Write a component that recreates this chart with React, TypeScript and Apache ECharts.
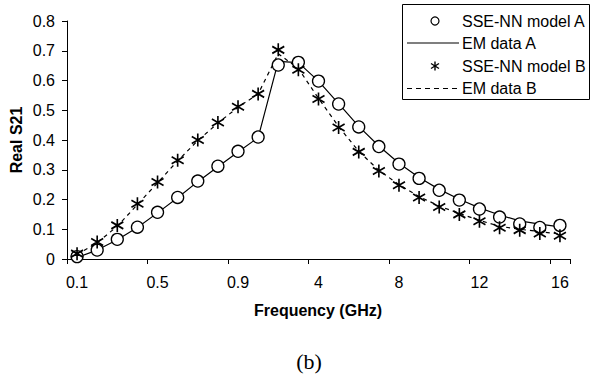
import React, { useEffect, useRef } from "react";
import * as echarts from "echarts";

const categories = [
  "0.1", "0.2", "0.3", "0.4", "0.5", "0.6", "0.7", "0.8", "0.9",
  "1", "2", "3", "4", "5", "6", "7", "8", "9", "10", "11", "12", "13", "14", "15", "16",
];

const modelA = [
  0.008, 0.03, 0.066, 0.107, 0.157, 0.207, 0.262, 0.312, 0.362,
  0.41, 0.652, 0.661, 0.598, 0.521, 0.444, 0.378, 0.319, 0.271, 0.231, 0.198, 0.168, 0.141, 0.118, 0.106, 0.113,
];
const emA = [
  0.005, 0.03, 0.065, 0.106, 0.155, 0.206, 0.26, 0.31, 0.36,
  0.408, 0.664, 0.66, 0.598, 0.522, 0.446, 0.38, 0.322, 0.274, 0.234, 0.201, 0.172, 0.148, 0.128, 0.117, 0.108,
];
const modelB = [
  0.018, 0.057, 0.113, 0.186, 0.259, 0.332, 0.4, 0.459, 0.512,
  0.555, 0.703, 0.636, 0.538, 0.442, 0.36, 0.296, 0.248, 0.207, 0.175, 0.15, 0.127, 0.105, 0.097, 0.086, 0.078,
];
const emB = [
  0.015, 0.055, 0.11, 0.183, 0.256, 0.33, 0.398, 0.457, 0.51,
  0.555, 0.69, 0.64, 0.54, 0.445, 0.362, 0.298, 0.25, 0.21, 0.178, 0.153, 0.13, 0.11, 0.1, 0.092, 0.084,
];

const legendNames = ["SSE-NN model A", "EM data A", "SSE-NN model B", "EM data B"];

const FONT = "'Liberation Sans', Arial, sans-serif";
const STAR = "path://M6,0L6,13M0,3L12,10M0,10L12,3";

export default function App() {
  const ref = useRef<HTMLDivElement>(null);
  useEffect(() => {
    if (!ref.current) return;
    const chart = echarts.init(ref.current, undefined, { renderer: "svg" });
    const rowsY = [21, 43, 66, 88.5];
    const lx = 435;
    const option: any = {
      animation: false,
      backgroundColor: "#fff",
      grid: { left: 67, right: 20, top: 21, bottom: 121, containLabel: false, outerBoundsMode: "none" },
      xAxis: {
        type: "category",
        data: categories,
        boundaryGap: true,
        axisLine: { show: true, lineStyle: { color: "#000", width: 1 } },
        axisTick: { show: true, interval: 3, length: 5, inside: false, lineStyle: { color: "#000" } },
        axisLabel: { interval: 3, margin: 15, color: "#000", fontSize: 16, fontFamily: FONT },
        splitLine: { show: false },
      },
      yAxis: {
        type: "value",
        min: 0,
        max: 0.8,
        interval: 0.1,
        axisLine: { show: true, lineStyle: { color: "#000", width: 1 } },
        axisTick: { show: true, length: 5, inside: false, lineStyle: { color: "#000" } },
        axisLabel: { margin: 12, color: "#000", fontSize: 16, fontFamily: FONT },
        splitLine: { show: false },
      },
      series: [
        {
          name: legendNames[1],
          type: "line",
          data: emA,
          showSymbol: false,
          symbol: "none",
          lineStyle: { color: "#000", width: 1.2, type: "solid" },
          z: 2,
        },
        {
          name: legendNames[3],
          type: "line",
          data: emB,
          showSymbol: false,
          symbol: "none",
          lineStyle: { color: "#000", width: 1.2, type: [4, 4] },
          z: 2,
        },
        {
          name: legendNames[0],
          type: "scatter",
          data: modelA,
          symbol: "circle",
          symbolSize: 12,
          itemStyle: { color: "#fff", borderColor: "#000", borderWidth: 1.3, opacity: 1 },
          z: 3,
        },
        {
          name: legendNames[2],
          type: "scatter",
          data: modelB,
          symbol: STAR,
          symbolSize: [12, 13],
          symbolKeepAspect: false,
          itemStyle: { color: "none", borderColor: "#000", borderWidth: 1.7, opacity: 1 },
          z: 4,
        },
      ],
      graphic: [
        {
          type: "text",
          x: 16,
          y: 140,
          rotation: Math.PI / 2,
          style: {
            text: "Real S21",
            fill: "#000",
            font: `bold 16px ${FONT}`,
            textAlign: "center",
            textVerticalAlign: "middle",
          },
        },
        {
          type: "text",
          x: 318,
          y: 310,
          style: {
            text: "Frequency (GHz)",
            fill: "#000",
            font: `bold 16px ${FONT}`,
            textAlign: "center",
            textVerticalAlign: "middle",
          },
        },
        {
          type: "text",
          x: 309,
          y: 361,
          style: {
            text: "(b)",
            fill: "#000",
            font: `22px 'Liberation Serif', 'Times New Roman', serif`,
            textAlign: "center",
            textVerticalAlign: "middle",
          },
        },
        {
          type: "group",
          children: [
            {
              type: "rect",
              shape: { x: 402.5, y: 4.5, width: 187, height: 95 },
              style: { fill: "#fff", stroke: "#000", lineWidth: 1 },
            },
            {
              type: "circle",
              shape: { cx: lx, cy: rowsY[0], r: 4 },
              style: { fill: "#fff", stroke: "#000", lineWidth: 1.2 },
            },
            {
              type: "line",
              shape: { x1: 407, y1: rowsY[1], x2: 459, y2: rowsY[1] },
              style: { stroke: "#000", lineWidth: 1.2 },
            },
            {
              type: "line",
              shape: { x1: lx, y1: rowsY[2] - 4.5, x2: lx, y2: rowsY[2] + 4.5 },
              style: { stroke: "#000", lineWidth: 1.4 },
            },
            {
              type: "line",
              shape: { x1: lx - 4, y1: rowsY[2] - 2.5, x2: lx + 4, y2: rowsY[2] + 2.5 },
              style: { stroke: "#000", lineWidth: 1.4 },
            },
            {
              type: "line",
              shape: { x1: lx - 4, y1: rowsY[2] + 2.5, x2: lx + 4, y2: rowsY[2] - 2.5 },
              style: { stroke: "#000", lineWidth: 1.4 },
            },
            {
              type: "line",
              shape: { x1: 407, y1: rowsY[3], x2: 459, y2: rowsY[3] },
              style: { stroke: "#000", lineWidth: 1.2, lineDash: [5, 4] },
            },
            ...legendNames.map((t, i) => ({
              type: "text",
              x: 462,
              y: rowsY[i],
              style: {
                text: t,
                fill: "#000",
                font: `16px ${FONT}`,
                textAlign: "left",
                textVerticalAlign: "middle",
              },
            })),
          ],
        },
      ],
    };
    chart.setOption(option);
    return () => chart.dispose();
  }, []);
  return (
    <div
      ref={ref}
      style={{ position: "fixed", left: 0, top: 0, width: 590, height: 380, background: "#fff" }}
    />
  );
}
